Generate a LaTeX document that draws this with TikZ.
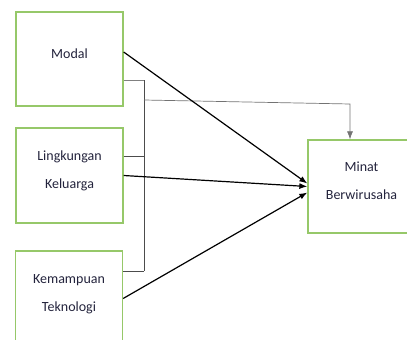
\documentclass[tikz,border=0pt]{standalone}
\usepackage{fontspec}
\setmainfont{Carlito}
\usetikzlibrary{arrows.meta}
\definecolor{boxgreen}{RGB}{150,200,105}
\definecolor{inktext}{RGB}{35,35,60}

\begin{document}
\begin{tikzpicture}[x=1pt,y=-1pt,
    varbox/.style={draw=boxgreen, line width=1.3pt, minimum width=107pt,
      align=center, text=inktext, text depth=11pt,
      font=\fontsize{14}{28}\selectfont},
    link/.style={line width=1.2pt, -{Latex[length=8pt,width=6pt]}},
    bus/.style={draw=black!70, line width=0.7pt}]
  \useasboundingbox (0,0) rectangle (407,340);
  \node [varbox, minimum height=94pt] (modal) at (69.5,59) {Modal};
  \node [varbox, minimum height=95pt] (keluarga) at (69.5,175.5) {Lingkungan\\Keluarga};
  \node [varbox, minimum height=95pt] (teknologi) at (69,298.5) {Kemampuan\\Teknologi};
  \node [varbox, minimum height=93pt] (minat) at (361.5,186.5) {Minat\\Berwirusaha};
  % joint line on the left
  \coordinate (bus top) at (144,80);
  \coordinate (bus mid) at (144,156);
  \coordinate (bus low) at (144,271);
  \coordinate (bus out) at (144,100);
  \coordinate (bus turn) at (350,104);
  \draw [bus, draw=black!50] ([yshift=-21pt]modal.east) -- (bus top);
  \draw [bus] (bus top) -- (bus low);
  \draw [bus] ([yshift=19.5pt]keluarga.east) -- (bus mid);
  \draw [bus] ([yshift=27.5pt]teknologi.east) -- (bus low);
  \draw [bus, draw=black!55, -{Latex[length=8pt,width=6pt]}]
    (bus out) -- (bus turn) -- (bus turn |- minat.north);
  % direct arrows
  \draw [link] ([yshift=7pt]modal.east) -- ([yshift=3pt]minat.west);
  \draw [link] (keluarga.east) -- (minat.west);
  \draw [link] (teknologi.east) -- ([yshift=-6pt]minat.west);
\end{tikzpicture}
\end{document}
